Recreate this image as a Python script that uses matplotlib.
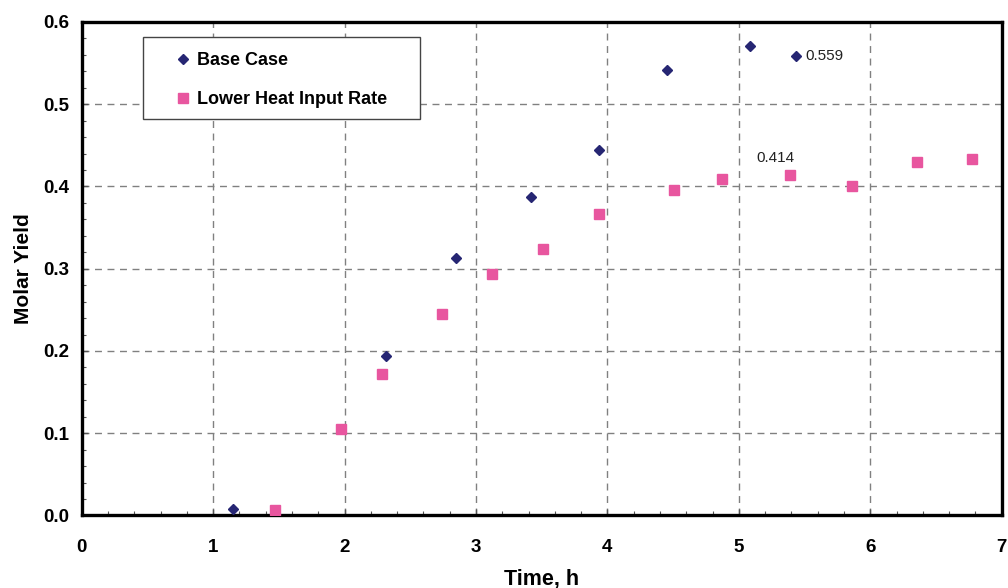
import matplotlib
matplotlib.use("Agg")
import matplotlib.pyplot as plt
from matplotlib.patches import Rectangle
from matplotlib.ticker import MultipleLocator

plt.rcParams['font.family'] = ['Liberation Sans', 'DejaVu Sans']

# Data
base_time = [1.15, 2.315, 2.85, 3.417, 3.934, 4.451, 5.084, 5.434]
base_yield = [0.008, 0.194, 0.313, 0.387, 0.444, 0.542, 0.571, 0.559]
low_time = [1.47, 1.97, 2.289, 2.742, 3.122, 3.508, 3.939, 4.506, 4.872, 5.386, 5.858, 6.357, 6.773]
low_yield = [0.007, 0.105, 0.172, 0.245, 0.294, 0.324, 0.367, 0.396, 0.409, 0.414, 0.401, 0.430, 0.434]
series_labels = ["Base Case", "Lower Heat Input Rate"]
annotations = [("0.559", 5.434, 0.559), ("0.414", 5.386, 0.414)]

fig = plt.figure(figsize=(10.08, 5.88), dpi=100)
ax = fig.add_axes([0.081, 0.1233, 0.9127, 0.8393])

ax.plot(base_time, base_yield, linestyle='none', marker='D', ms=5.2,
        color='#262673', label=series_labels[0], zorder=5)
ax.plot(low_time, low_yield, linestyle='none', marker='s', ms=7.0,
        color='#e8569f', label=series_labels[1], zorder=5)

ax.set_xlim(0, 7)
ax.set_ylim(0, 0.6)
ax.xaxis.set_major_locator(MultipleLocator(1))
ax.xaxis.set_minor_locator(MultipleLocator(0.2))
ax.yaxis.set_major_locator(MultipleLocator(0.1))
ax.yaxis.set_minor_locator(MultipleLocator(0.02))
ax.set_yticklabels([f"{v:.1f}" for v in ax.get_yticks()])

ax.grid(True, which='major', color='#808080', linestyle=(0, (5, 4)), linewidth=1.0)
ax.set_axisbelow(True)

for s in ax.spines.values():
    s.set_linewidth(2.4)
    s.set_color('black')

ax.tick_params(which='both', direction='in', color='#555555')
ax.tick_params(which='major', length=4, width=1)
ax.tick_params(which='minor', length=3, width=0.8)
ax.tick_params(axis='x', which='major', labelsize=13.5, pad=17)
ax.tick_params(axis='y', which='major', labelsize=13.5, pad=9)
for lab in ax.get_xticklabels() + ax.get_yticklabels():
    lab.set_fontweight('bold')

ax.set_xlabel("Time, h", fontsize=15.5, fontweight='bold', labelpad=9)
ax.set_ylabel("Molar Yield", fontsize=15, fontweight='bold', labelpad=7)

# annotations
ax.annotate(annotations[0][0], (annotations[0][1], annotations[0][2]),
            xytext=(7, 0), textcoords='offset points', ha='left', va='center',
            fontsize=11, color='#222222')
ax.annotate(annotations[1][0], (annotations[1][1], annotations[1][2]),
            xytext=(-10, 12), textcoords='offset points', ha='center', va='center',
            fontsize=11, color='#222222')

# legend box
ax.add_patch(Rectangle((0.0666, 0.803), 0.3014, 0.1666, transform=ax.transAxes,
                       facecolor='white', edgecolor='#444444', linewidth=1.0, zorder=6))
ax.legend(loc='upper left', bbox_to_anchor=(0.0945, 0.953), frameon=False,
          prop={'weight': 'bold', 'size': 13}, handlelength=0.8, handletextpad=0.35,
          labelspacing=1.2, borderaxespad=0).set_zorder(7)

fig.savefig("out.png", dpi=100, facecolor='white')
